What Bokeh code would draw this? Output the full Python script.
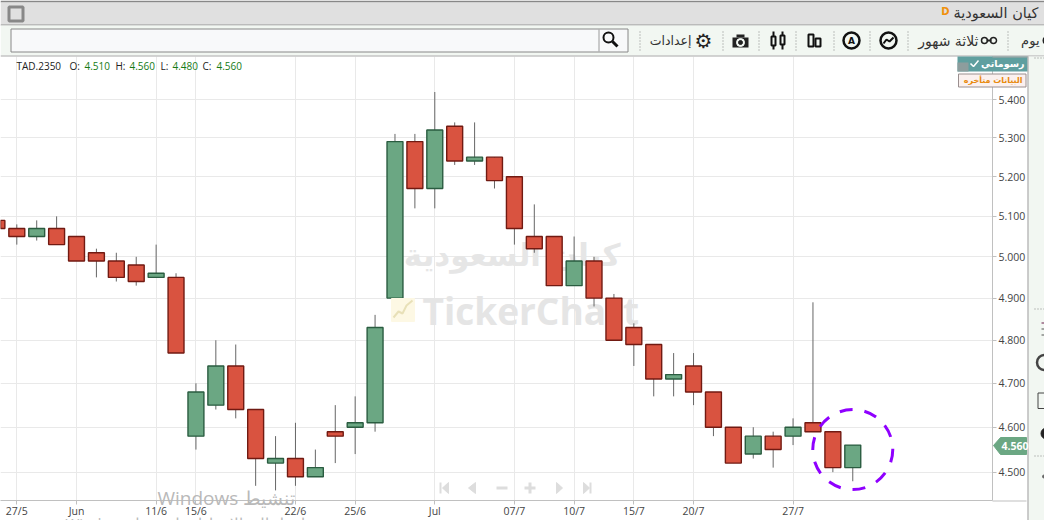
from bokeh.plotting import figure
from bokeh.layouts import column
from bokeh.models import FixedTicker, NumeralTickFormatter, Label, ColumnDataSource
from bokeh.core.properties import value
from bokeh.embed import file_html
from bokeh.resources import INLINE

# ---- data ----
session = list(range(-1, 43))
opens = [5.09, 5.07, 5.05, 5.07, 5.05, 5.01, 4.99, 4.98, 4.95, 4.95, 4.58, 4.65, 4.74, 4.64,
         4.52, 4.53, 4.49, 4.59, 4.60, 4.61, 4.90, 5.29, 5.17, 5.33, 5.24, 5.25, 5.20, 5.05,
         5.05, 4.93, 4.99, 4.90, 4.83, 4.79, 4.71, 4.74, 4.68, 4.60, 4.54, 4.58, 4.58, 4.61,
         4.59, 4.51]
highs = [5.09, 5.08, 5.09, 5.10, 5.05, 5.02, 5.01, 5.00, 5.03, 4.96, 4.70, 4.80, 4.79, 4.64,
         4.58, 4.61, 4.55, 4.65, 4.67, 4.86, 5.31, 5.31, 5.42, 5.34, 5.34, 5.25, 5.20, 5.13,
         5.05, 5.05, 5.00, 4.91, 4.84, 4.79, 4.77, 4.77, 4.68, 4.60, 4.60, 4.59, 4.62, 4.89,
         4.59, 4.56]
lows = [5.07, 5.03, 5.04, 5.03, 4.99, 4.95, 4.94, 4.93, 4.95, 4.77, 4.55, 4.64, 4.62, 4.47,
        4.46, 4.47, 4.49, 4.52, 4.54, 4.59, 4.87, 5.12, 5.12, 5.23, 5.23, 5.17, 5.03, 5.01,
        4.93, 4.93, 4.88, 4.80, 4.74, 4.67, 4.67, 4.65, 4.58, 4.52, 4.53, 4.51, 4.56, 4.59,
        4.50, 4.48]
closes = [5.07, 5.05, 5.07, 5.03, 4.99, 4.99, 4.95, 4.94, 4.96, 4.77, 4.68, 4.74, 4.64, 4.53,
          4.53, 4.49, 4.51, 4.58, 4.61, 4.83, 5.29, 5.17, 5.32, 5.24, 5.25, 5.19, 5.07, 5.02,
          4.93, 4.99, 4.90, 4.80, 4.79, 4.71, 4.72, 4.68, 4.60, 4.52, 4.58, 4.55, 4.60, 4.59,
          4.51, 4.56]
x_tick_pos = [0, 3, 7, 9, 14, 17, 21, 25, 28, 31, 34, 39]
x_tick_txt = ["27/5", "Jun", "11/6", "15/6", "22/6", "25/6", "Jul", "07/7", "10/7", "15/7", "20/7", "27/7"]
y_ticks = [4.5, 4.6, 4.7, 4.8, 4.9, 5.0, 5.1, 5.2, 5.3, 5.4]
mark_x = [42]
mark_y = [4.55]

UP, UP_E = "#6ba783", "#2a5c40"
DN, DN_E = "#d95340", "#711a12"
GRID = "#e9e9e9"
AR = "DejaVu Sans"
LAT = "Open Sans"

p = figure(width=1044, height=520, output_backend="svg", toolbar_location=None,
           y_axis_type="log", y_axis_location="right",
           x_range=(-0.819, 49.02), y_range=(4.438, 5.515),
           min_border_left=0, min_border_right=52, min_border_top=56, min_border_bottom=20,
           background_fill_color="white", border_fill_color="white", margin=0, frame_align=False)
p.outline_line_color = None

src = ColumnDataSource(dict(
    x=session, h=highs, l=lows,
    top=[max(a, b) for a, b in zip(opens, closes)],
    bot=[min(a, b) for a, b in zip(opens, closes)],
    fill=[UP if c > o else DN for o, c in zip(opens, closes)],
    edge=[UP_E if c > o else DN_E for o, c in zip(opens, closes)],
))
p.segment("x", "h", "x", "l", source=src, line_color="#666666", line_width=1)
p.vbar("x", 0.8, "top", "bot", source=src, fill_color="fill", line_color="edge", line_width=1.4)
p.scatter(mark_x, mark_y, size=80, marker="circle", fill_color=None, line_color="#8f00ff",
          line_width=3, line_dash="13 12")

xa, ya = p.xaxis[0], p.yaxis[0]
xa.ticker = FixedTicker(ticks=x_tick_pos)
xa.major_label_overrides = {k: v for k, v in zip(x_tick_pos, x_tick_txt)}
ya.ticker = FixedTicker(ticks=y_ticks)
ya.formatter = NumeralTickFormatter(format="0.000")
for ax in (xa, ya):
    ax.axis_line_color = "#c0c0c0"
    ax.major_tick_line_color = "#c0c0c0"
    ax.minor_tick_line_color = None
    ax.major_tick_in = 0
    ax.major_tick_out = 4
    ax.major_label_text_color = "#444444"
    ax.major_label_text_font = LAT
    ax.major_label_text_font_size = "10.5px"
ya.major_label_standoff = 2
xa.major_label_standoff = -1
p.xgrid[0].ticker = FixedTicker(ticks=x_tick_pos)
p.ygrid[0].ticker = FixedTicker(ticks=y_ticks)
p.xgrid[0].grid_line_color = GRID
p.ygrid[0].grid_line_color = GRID
p.ygrid[0].minor_grid_line_color = None

# watermarks behind the candles
p.add_layout(Label(x=620, y=254, x_units="canvas", y_units="canvas", text="كيان السعودية",
                   text_font_size="31px", text_color="#e6e6e6", text_align="right",
                   text_baseline="middle", text_font=AR, text_font_style="bold", level="underlay"))
p.add_layout(Label(x=422, y=310, x_units="canvas", y_units="canvas", text="TickerChart",
                   text_font_size="37px", text_color="#e5e5e5", text_align="left",
                   text_baseline="middle", text_font=LAT, text_font_style="bold", level="underlay"))

# ---- transparent layer in page pixels, for the window around the chart ----
ov = figure(width=1044, height=520, output_backend="svg", toolbar_location=None,
            x_range=(0, 1044), y_range=(520, 0), x_axis_location=None, y_axis_location=None,
            min_border=0, min_border_left=0, min_border_right=0, min_border_top=0,
            min_border_bottom=0, background_fill_alpha=0, border_fill_alpha=0,
            margin=(-520, 0, 0, 0), frame_align=False)
ov.outline_line_color = None
ov.grid.visible = False


def box(l, r, t, b, fill, line=None, lw=1):
    ov.quad(left=[l], right=[r], top=[t], bottom=[b], fill_color=fill, line_color=line, line_width=lw)


def poly(xs, ys, fill):
    ov.patch(xs, ys, fill_color=fill, line_color=fill)


def stroke(xs, ys, color, lw=1):
    ov.line(xs, ys, line_color=color, line_width=lw)


def ring(x, y, size, color, lw=2, fill=None):
    ov.scatter([x], [y], size=size, marker="circle", fill_color=fill, line_color=color, line_width=lw)


def text(x, y, t, size, color, align="left", font=AR, style="normal"):
    ov.text([x], [y], text=[t], text_font=value(font), text_font_size=f"{size}px", text_color=color,
            text_align=align, text_baseline="middle", text_font_style=style)


# logo of the watermark
poly([391, 414, 414, 391], [298, 298, 321, 321], "#fdf8e4")
stroke([393, 398, 402, 406, 412], [317, 311, 313, 305, 300], "#e8e0b8", 2)

# navigation controls
NAV = "#dddddd"
box(439, 441, 482, 493, NAV)
poly([442, 448, 448], [487.5, 482, 493], NAV)
poly([468, 475, 475], [487.5, 482, 493], NAV)
box(496, 507, 486, 489, NAV)
box(524, 535, 486, 489, NAV)
box(528, 531, 482, 493, NAV)
poly([562, 556, 556], [487.5, 482, 493], NAV)
poly([589, 583, 583], [487.5, 482, 493], NAV)
box(589, 591, 482, 493, NAV)

# price header
text(16, 65, "TAD.2350", 10, "#222222", font=LAT)
for xx, t, col in [(69, "O:", "#222222"), (84, "4.510", "#157a15"), (115, "H:", "#222222"),
                   (129, "4.560", "#157a15"), (160, "L:", "#222222"), (172, "4.480", "#157a15"),
                   (202, "C:", "#222222"), (216, "4.560", "#157a15")]:
    text(xx, 65, t, 10, col, font=LAT)

# window chrome
box(0, 1044, 0, 2, "#888888")
box(0, 1044, 2, 24, "#e0e0e0")
box(0, 1044, 24, 25, "#888888")
box(0, 1044, 25, 55, "#f2f7f2")
box(0, 1044, 55, 56, "#a8a8a8")
box(8.5, 22.5, 6.5, 20.5, "#e0e0e0", "#888888", 3)
text(1038, 12, "كيان السعودية", 14.5, "#333333", "right")
text(949, 11, "D", 10, "#f0900c", "right", AR, "bold")

box(10.5, 627.5, 28.5, 51.5, "#f8f9fa", "#888888", 1)
stroke([598.5, 598.5], [29, 51], "#9a9a9a")
ring(608, 37, 10, "#111111", 2)
stroke([612, 617], [41, 46], "#111111", 3)

for sx in [639, 722, 758, 795, 833, 869, 907, 1007]:
    for sy in range(31, 50, 3):
        box(sx, sx + 1, sy, sy + 1, "#888888")

text(691, 40, "إعدادات", 12.5, "#333333", "right")
text(703, 40, "⚙", 20, "#222222", "center")
# camera
box(732, 748, 37, 47, "#222222")
box(736, 744, 34, 37, "#222222")
ring(740, 42, 8, "#f2f7f2", 1, "#f2f7f2")
ring(740, 42, 4, "#222222", 1, "#222222")
# candle icon
stroke([773, 773], [31, 49], "#111111", 2)
box(771, 775, 36, 45, "#f2f7f2", "#111111", 2)
stroke([782, 782], [31, 49], "#111111", 2)
box(780, 784, 35, 44, "#f2f7f2", "#111111", 2)
# bars icon
box(808, 813, 34, 46, "#f2f7f2", "#111111", 2)
box(815, 820, 38, 46, "#f2f7f2", "#111111", 2)
# circled icons
ring(851, 40, 16, "#111111", 2.5)
text(851, 40, "A", 9, "#111111", "center", style="bold")
ring(888, 40, 16, "#111111", 2.5)
stroke([883, 886, 889, 893], [43, 39, 41, 37], "#111111", 2)
text(978, 40, "ثلاثة شهور", 14, "#333333", "right")
ring(984, 40, 6, "#222222", 1.5)
ring(993, 40, 6, "#222222", 1.5)
stroke([986, 991], [40, 40], "#222222", 2)
text(1039, 40, "يوم", 13, "#333333", "right")
ring(1047, 40, 8, "#222222", 2)

# badges
box(957, 1027, 56, 71, "#5f9f9f")
box(957, 968, 62, 71, "#8d9d9d")
text(1024, 63, "رسوماتي", 9.5, "white", "right", style="bold")
stroke([970, 973, 978], [63, 66, 60], "white", 1.5)
box(958, 1025.5, 73.5, 86.5, "#fbf1ef", "#9a8f8f")
text(1022, 80, "البيانات متأخره", 8, "#e8890c", "right", style="bold")

# right side rail
box(992, 1027, 56, 57, "#a8a8a8")
box(992, 1026, 500, 501, "#c0c0c0")
box(1028, 1044, 56, 520, "#f2f7f2")
box(1027, 1028, 56, 520, "#999999")
for sy in [57, 308, 455]:
    for sx in [1034, 1037, 1040, 1043]:
        box(sx, sx + 1, sy, sy + 1, "#888888")
box(1041, 1044, 322, 323, "#6b1a4a")
box(1041, 1044, 328, 329, "#555555")
box(1041, 1044, 334, 335, "#555555")
ring(1044, 362, 15, "#444444", 2.5)
box(1037.5, 1050, 392.5, 408, "#f2f7f2", "#444444")
ring(1046, 433, 11, "#222222", 1, "#222222")
ring(1043.5, 476, 3, "#666666", 1, "#666666")

# last price tag
poly([993, 1000, 1026, 1026, 1000], [445, 437, 437, 454, 454], UP)
text(1001, 445.5, "4.560", 10.5, "white", font=LAT, style="bold")

# OS activation watermark
text(157, 497, "Windows تنشيط", 19, "#b9b9b9", "left", LAT)
text(65, 522, "Windows انتقل إلى الإعدادات لتنشيط", 15, "#b9b9b9", "left", LAT)

open("out.html", "w").write(file_html(column(p, ov, spacing=0, margin=0), INLINE))
